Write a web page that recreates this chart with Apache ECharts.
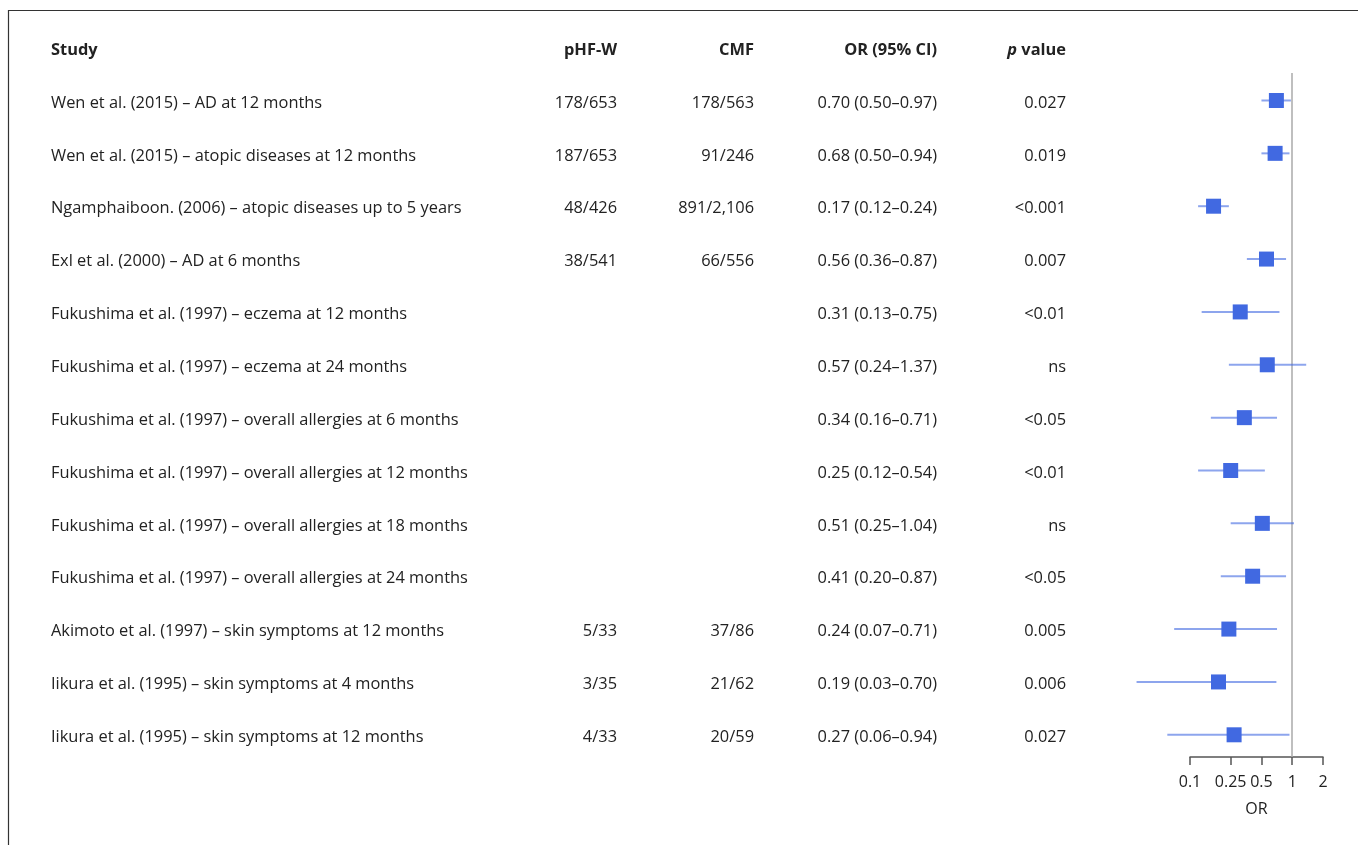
<!DOCTYPE html>
<html>
<head>
<meta charset="utf-8">
<script src="https://cdn.jsdelivr.net/npm/echarts@6/dist/echarts.min.js"></script>
<style>
html,body{margin:0;padding:0;background:#fff;}
#chart{width:1358px;height:845px;}
</style>
</head>
<body>
<div id="chart"></div>
<script>
const headers = ['Study', 'pHF-W', 'CMF', 'OR (95% CI)', 'p value'];
const studies = [
  'Wen et al. (2015) – AD at 12 months',
  'Wen et al. (2015) – atopic diseases at 12 months',
  'Ngamphaiboon. (2006) – atopic diseases up to 5 years',
  'Exl et al. (2000) – AD at 6 months',
  'Fukushima et al. (1997) – eczema at 12 months',
  'Fukushima et al. (1997) – eczema at 24 months',
  'Fukushima et al. (1997) – overall allergies at 6 months',
  'Fukushima et al. (1997) – overall allergies at 12 months',
  'Fukushima et al. (1997) – overall allergies at 18 months',
  'Fukushima et al. (1997) – overall allergies at 24 months',
  'Akimoto et al. (1997) – skin symptoms at 12 months',
  'Iikura et al. (1995) – skin symptoms at 4 months',
  'Iikura et al. (1995) – skin symptoms at 12 months'
];
const phfw = ['178/653', '187/653', '48/426', '38/541', '', '', '', '', '', '', '5/33', '3/35', '4/33'];
const cmf = ['178/563', '91/246', '891/2,106', '66/556', '', '', '', '', '', '', '37/86', '21/62', '20/59'];
const orValues = [0.70, 0.68, 0.17, 0.56, 0.31, 0.57, 0.34, 0.25, 0.51, 0.41, 0.24, 0.19, 0.27];
const ciLower = [0.50, 0.50, 0.12, 0.36, 0.13, 0.24, 0.16, 0.12, 0.25, 0.20, 0.07, 0.03, 0.06];
const ciUpper = [0.97, 0.94, 0.24, 0.87, 0.75, 1.37, 0.71, 0.54, 1.04, 0.87, 0.71, 0.70, 0.94];
const pValues = ['0.027', '0.019', '<0.001', '0.007', '<0.01', 'ns', '<0.05', '<0.01', 'ns', '<0.05', '0.005', '0.006', '0.027'];
const orTicks = [0.1, 0.25, 0.5, 1, 2];
const tickLabels = ['0.1', '0.25', '0.5', '1', '2'];

const FONT = '"Open Sans", "Noto Sans", sans-serif';
const TXT = '#222';
const FS = 16.4;
const colX = [51, 617, 754, 937, 1066];
const colAlign = ['left', 'right', 'right', 'right', 'right'];
const textDy = 2.5;

const orText = orValues.map((v, i) => v.toFixed(2) + ' (' + ciLower[i].toFixed(2) + '–' + ciUpper[i].toFixed(2) + ')');

function txt(x, y, s, align, extra) {
  return {
    type: 'text', x: x, y: y,
    style: Object.assign({
      text: s, fill: TXT, fontSize: FS, fontFamily: FONT,
      align: align, verticalAlign: 'middle'
    }, extra || {})
  };
}

const chart = echarts.init(document.getElementById('chart'), null, {renderer: 'canvas'});
const logTicks = orTicks.map(v => Math.log10(v));

chart.setOption({
  backgroundColor: '#fff',
  animation: false,
  graphic: [{
    type: 'rect', silent: true, z: 0,
    shape: {x: 8.5, y: 10.5, width: 1500, height: 1000},
    style: {fill: 'none', stroke: '#333', lineWidth: 1.2}
  }],
  grid: {left: 1190, right: 35, top: 73, bottom: 88, containLabel: false},
  xAxis: {
    type: 'value',
    min: -1,
    max: Math.log10(2),
    splitLine: {show: false},
    axisLine: {show: true, onZero: false, lineStyle: {color: '#555', width: 1.5}},
    axisTick: {show: true, customValues: logTicks, length: 8, inside: false, lineStyle: {color: '#555', width: 1.5}},
    axisLabel: {
      customValues: logTicks,
      color: TXT, fontSize: 16, fontFamily: FONT, margin: 17,
      formatter: function (v) {
        let best = 0, d = Infinity;
        logTicks.forEach((t, k) => { if (Math.abs(t - v) < d) { d = Math.abs(t - v); best = k; } });
        return tickLabels[best];
      }
    },
    name: 'OR',
    nameLocation: 'middle',
    nameGap: 44,
    nameTextStyle: {color: TXT, fontSize: 16, fontFamily: FONT}
  },
  yAxis: {
    type: 'value', inverse: true, min: -0.52, max: 12.42,
    show: false
  },
  series: [
    {
      type: 'custom',
      name: 'header',
      clip: false,
      silent: true,
      data: [[0, -1]],
      encode: {x: 0, y: 1},
      renderItem: function (params, api) {
        const y = api.coord([0, -1])[1] + textDy;
        const children = headers.map((h, k) => {
          if (k === 4) {
            return txt(colX[k], y, '{i|p} value', colAlign[k], {
              fontWeight: 'bold',
              rich: {i: {fontStyle: 'italic', fontWeight: 'bold', fontSize: FS, fontFamily: FONT, fill: TXT}}
            });
          }
          return txt(colX[k], y, h, colAlign[k], {fontWeight: 'bold'});
        });
        return {type: 'group', children: children};
      }
    },
    {
      type: 'custom',
      name: 'table',
      clip: false,
      silent: true,
      data: studies.map((s, i) => [0, i]),
      encode: {x: 0, y: 1},
      renderItem: function (params, api) {
        const i = params.dataIndex;
        const y = api.coord([0, api.value(1)])[1] + textDy;
        const cells = [studies[i], phfw[i], cmf[i], orText[i], pValues[i]];
        return {
          type: 'group',
          children: cells.map((c, k) => txt(colX[k], y, c, colAlign[k]))
        };
      }
    },
    {
      type: 'custom',
      name: 'forest',
      clip: false,
      z: 3,
      data: orValues.map((v, i) => [Math.log10(ciLower[i]), Math.log10(ciUpper[i]), Math.log10(v), i]),
      encode: {x: [0, 1, 2], y: 3},
      renderItem: function (params, api) {
        const row = api.value(3);
        const a = api.coord([api.value(0), row]);
        const b = api.coord([api.value(1), row]);
        const c = api.coord([api.value(2), row]);
        const s = 15;
        return {
          type: 'group',
          children: [
            {type: 'line', shape: {x1: a[0], y1: a[1], x2: b[0], y2: b[1]},
             style: {stroke: 'rgba(65,105,225,0.6)', lineWidth: 2}},
            {type: 'rect', shape: {x: c[0] - s / 2, y: c[1] - s / 2, width: s, height: s},
             style: {fill: '#4169E1'}}
          ]
        };
      },
      markLine: {
        silent: true,
        symbol: ['none', 'none'],
        label: {show: false},
        lineStyle: {color: '#aaa', width: 1.5, type: 'solid'},
        data: [{xAxis: 0}],
        z: 1
      }
    }
  ]
});
</script>
</body>
</html>
